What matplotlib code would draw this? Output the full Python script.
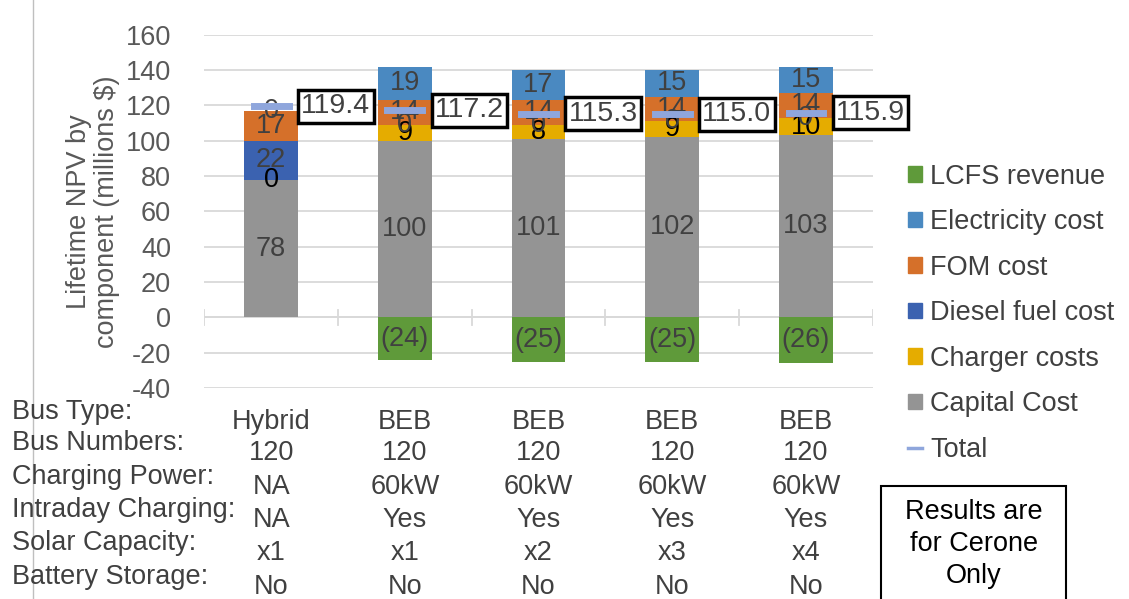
import numpy as np
import matplotlib.pyplot as plt
from matplotlib.patches import Patch, Rectangle
from matplotlib.lines import Line2D
import matplotlib.transforms as mtransforms

plt.rcParams['font.family'] = ['Liberation Sans', 'DejaVu Sans']
plt.rcParams['axes.unicode_minus'] = False

categories = ['Hybrid', 'BEB', 'BEB', 'BEB', 'BEB']
capital = [78, 100, 101, 102, 103]
charger = [0, 9, 8, 9, 10]
diesel = [22, 0, 0, 0, 0]
fom = [17, 14, 14, 14, 14]
electricity = [0, 19, 17, 15, 15]
lcfs = [0, -24, -25, -25, -26]
total = [119.4, 117.2, 115.3, 115.0, 115.9]

row_names = ['Bus Type:', 'Bus Numbers:', 'Charging Power:', 'Intraday Charging:',
             'Solar Capacity:', 'Battery Storage:']
row_values = [
    ['Hybrid', 'BEB', 'BEB', 'BEB', 'BEB'],
    ['120', '120', '120', '120', '120'],
    ['NA', '60kW', '60kW', '60kW', '60kW'],
    ['NA', 'Yes', 'Yes', 'Yes', 'Yes'],
    ['x1', 'x1', 'x2', 'x3', 'x4'],
    ['No', 'No', 'No', 'No', 'No'],
]

c_cap = '#949494'
c_chg = '#E5AC00'
c_dsl = '#3B62B0'
c_fom = '#D5702A'
c_ele = '#4A89C1'
c_lcf = '#5F9A3A'
c_tot = '#8FA6DC'
txt = '#404040'
fs = 19.5

fig = plt.figure(figsize=(11.29, 5.99), dpi=100)
ax = fig.add_axes([0.181, 0.352, 0.592, 0.590])

x = np.arange(len(categories))
w = 0.4
bottom = np.zeros(len(x))
series = [(capital, c_cap, txt), (charger, c_chg, 'black'), (diesel, c_dsl, txt),
          (fom, c_fom, txt), (electricity, c_ele, txt)]
for vals, col, lc in series:
    vals = np.array(vals, dtype=float)
    bars = ax.bar(x, vals, w, bottom=bottom, color=col, zorder=2)
    ax.bar_label(bars, labels=[f'{v:.0f}' for v in vals], label_type='center',
                 fontsize=fs, color=lc)
    bottom += vals

neg = np.array(lcfs, dtype=float)
bars = ax.bar(x[1:], neg[1:], w, color=c_lcf, zorder=2)
ax.bar_label(bars, labels=[f'({-v:.0f})' for v in neg[1:]], label_type='center',
             fontsize=fs, color=txt)

# total markers + boxed labels
for xi, t in zip(x, total):
    ax.plot([xi - 0.13, xi + 0.13], [t, t], color=c_tot, lw=5, zorder=3)
    ax.text(xi + w / 2 + 0.025, t, f'{t:.1f}', fontsize=20.5, color=txt,
            va='center', ha='left', zorder=4,
            bbox=dict(boxstyle='square,pad=0.12', fc='white', ec='black', lw=2.5))

ax.set_ylim(-40, 160)
ax.set_xlim(-0.5, 4.5)
ax.set_yticks(np.arange(-40, 161, 20))
ax.tick_params(axis='y', length=0, labelsize=fs, labelcolor='#595959', pad=24)
ax.set_xticks([])
ax.grid(axis='y', color='#D9D9D9', lw=1.3, zorder=0)
for s in ax.spines.values():
    s.set_visible(False)
ax.axhline(0, color='#D9D9D9', lw=1.3, zorder=1)
for b in np.arange(-0.5, 5, 1.0):
    ax.plot([b, b], [-4.5, 4.5], color='#D9D9D9', lw=1.3, zorder=1)

ax.set_ylabel('Lifetime NPV by\ncomponent (millions $)', fontsize=fs,
              color='#595959', labelpad=4, linespacing=1.1)

# bottom table
row_y = [412, 443, 477, 510, 543, 577]
trans = mtransforms.blended_transform_factory(ax.transData, fig.transFigure)
for name, vals, yy in zip(row_names, row_values, row_y):
    fig.text(12 / 1129, 1 - yy / 599, name, fontsize=fs, color=txt, va='center', ha='left')
    for xi, v in zip(x, vals):
        ax.text(xi, 1 - (yy + 10) / 599, v, transform=trans, fontsize=fs,
                color=txt, va='center', ha='center', clip_on=False)

fig.add_artist(Line2D([33 / 1129, 33 / 1129], [0, 1], color='#BFBFBF', lw=1))

handles = [Patch(color=c_lcf), Patch(color=c_ele), Patch(color=c_fom),
           Patch(color=c_dsl), Patch(color=c_chg), Patch(color=c_cap),
           Line2D([], [], color=c_tot, lw=2.5)]
labels = ['LCFS revenue', 'Electricity cost', 'FOM cost', 'Diesel fuel cost',
          'Charger costs', 'Capital Cost', 'Total']
fig.legend(handles, labels, loc='upper left', bbox_to_anchor=(0.795, 0.745),
           frameon=False, fontsize=fs, handlelength=0.5, handleheight=0.5,
           handletextpad=0.3, labelspacing=0.72, labelcolor=txt, borderaxespad=0)

fig.add_artist(Rectangle((881 / 1129, -0.05), 185 / 1129, 0.05 + 113 / 599,
                         transform=fig.transFigure, fc='white', ec='black', lw=1.5))
fig.text(974 / 1129, 1 - 544 / 599, 'Results are\nfor Cerone\nOnly', fontsize=fs,
         ha='center', va='center', linespacing=1.3, color='black')

fig.savefig('out.png', dpi=100)
